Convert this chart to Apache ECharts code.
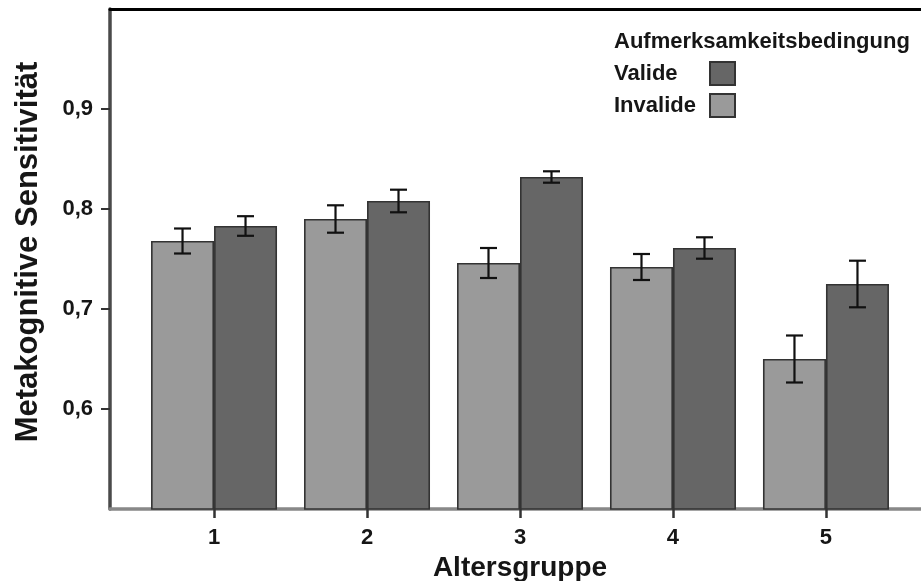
<!DOCTYPE html>
<html>
<head>
<meta charset="utf-8">
<script src="https://cdn.jsdelivr.net/npm/echarts@6/dist/echarts.min.js"></script>
<style>
  html, body { margin: 0; padding: 0; background: #fff; }
  #chart { width: 921px; height: 581px; }
</style>
</head>
<body>
<div id="chart"></div>
<script>
// Altersgruppen (x categories)
const ageGroups = [1, 2, 3, 4, 5];
// Mittelwerte und Standardfehler je Bedingung
const invalideMean = [0.768, 0.790, 0.746, 0.742, 0.650];
const invalideSE   = [0.0125, 0.0137, 0.0150, 0.0130, 0.0235];
const valideMean   = [0.783, 0.808, 0.832, 0.761, 0.725];
const valideSE     = [0.0098, 0.0113, 0.0057, 0.0107, 0.0233];
// y tick positions
const yTicks = [0.6, 0.7, 0.8, 0.9];

const FONT = '"Liberation Sans", Arial, sans-serif';
const TEXT = '#161616';
const BAR_W = 63;
const X_MIN = 0.32, X_MAX = 5.68;

const chart = echarts.init(document.getElementById('chart'), null, { renderer: 'canvas' });

function errorSeries(name, means, ses, offset) {
  return {
    type: 'custom',
    name: name + '-se',
    xAxisIndex: 0,
    yAxisIndex: 0,
    z: 5,
    silent: true,
    data: ageGroups.map((g, i) => [g, means[i], ses[i]]),
    encode: { x: 0, y: 1 },
    renderItem: function (params, api) {
      const g = api.value(0), m = api.value(1), e = api.value(2);
      const hi = api.coord([g, m + e]);
      const lo = api.coord([g, m - e]);
      const x = hi[0] + offset;
      const half = 8.5;
      const style = { stroke: '#111', lineWidth: 2.2 };
      return {
        type: 'group',
        children: [
          { type: 'line', shape: { x1: x, y1: hi[1], x2: x, y2: lo[1] }, style: style },
          { type: 'line', shape: { x1: x - half, y1: hi[1], x2: x + half, y2: hi[1] }, style: style },
          { type: 'line', shape: { x1: x - half, y1: lo[1], x2: x + half, y2: lo[1] }, style: style }
        ]
      };
    }
  };
}

const option = {
  backgroundColor: '#ffffff',
  animation: false,
  textStyle: { fontFamily: FONT, color: TEXT },
  title: {
    text: 'Aufmerksamkeitsbedingung',
    left: 614,
    top: 31,
    padding: 0,
    textStyle: { fontFamily: FONT, fontSize: 22, fontWeight: 'bold', color: TEXT }
  },
  legend: {
    data: ['Valide', 'Invalide'],
    orient: 'vertical',
    left: 614,
    top: 61,
    padding: 0,
    align: 'right',
    icon: 'rect',
    itemWidth: 25,
    itemHeight: 23,
    itemGap: 7,
    selectedMode: false,
    formatter: '{n|{name}}',
    textStyle: {
      rich: { n: { width: 91, align: 'left', fontFamily: FONT, fontSize: 22, fontWeight: 'bold', color: TEXT } }
    }
  },
  grid: { left: 110, right: -9, top: 9, bottom: 72, containLabel: false, outerBoundsMode: 'none' },
  xAxis: [
    {
      type: 'value',
      min: X_MIN,
      max: X_MAX,
      position: 'bottom',
      name: 'Altersgruppe',
      nameLocation: 'middle',
      nameGap: 38,
      nameTextStyle: { fontFamily: FONT, fontSize: 28, fontWeight: 'bold', color: TEXT },
      splitLine: { show: false },
      axisLine: { show: true, onZero: false, lineStyle: { color: '#888', width: 3.5 } },
      axisTick: { show: true, customValues: ageGroups, length: 9, lineStyle: { color: '#333', width: 2.5 } },
      axisLabel: {
        customValues: ageGroups,
        margin: 18,
        fontFamily: FONT, fontSize: 22, fontWeight: 'bold', color: TEXT,
        formatter: v => String(Math.round(v))
      }
    },
    {
      type: 'value',
      min: X_MIN,
      max: X_MAX,
      position: 'top',
      splitLine: { show: false },
      axisLine: { show: true, onZero: false, lineStyle: { color: '#000', width: 3 } },
      axisTick: { show: false },
      axisLabel: { show: false }
    }
  ],
  yAxis: {
    type: 'value',
    min: 0.5,
    max: 1.0,
    name: 'Metakognitive Sensitivität',
    nameLocation: 'middle',
    nameGap: 66,
    nameTextStyle: { fontFamily: FONT, fontSize: 31, fontWeight: 'bold', color: TEXT, padding: [0, 0, 0, 14] },
    splitLine: { show: false },
    axisLine: { show: true, onZero: false, lineStyle: { color: '#4a4a4a', width: 3.5 } },
    axisTick: { show: true, customValues: yTicks, length: 9, lineStyle: { color: '#333', width: 2 } },
    axisLabel: {
      customValues: yTicks,
      margin: 17,
      fontFamily: FONT, fontSize: 22, fontWeight: 'bold', color: TEXT,
      formatter: v => v.toFixed(1).replace('.', ',')
    }
  },
  series: [
    {
      type: 'bar',
      name: 'Invalide',
      xAxisIndex: 0,
      yAxisIndex: 0,
      barWidth: BAR_W,
      barGap: '0%',
      itemStyle: { color: '#9a9a9a', borderColor: '#333333', borderWidth: 1.6 },
      data: ageGroups.map((g, i) => [g, invalideMean[i]])
    },
    {
      type: 'bar',
      name: 'Valide',
      xAxisIndex: 0,
      yAxisIndex: 0,
      barWidth: BAR_W,
      barGap: '0%',
      itemStyle: { color: '#666666', borderColor: '#333333', borderWidth: 1.6 },
      data: ageGroups.map((g, i) => [g, valideMean[i]])
    },
    errorSeries('Invalide', invalideMean, invalideSE, -BAR_W / 2),
    errorSeries('Valide', valideMean, valideSE, BAR_W / 2)
  ]
};

chart.setOption(option);
</script>
</body>
</html>
